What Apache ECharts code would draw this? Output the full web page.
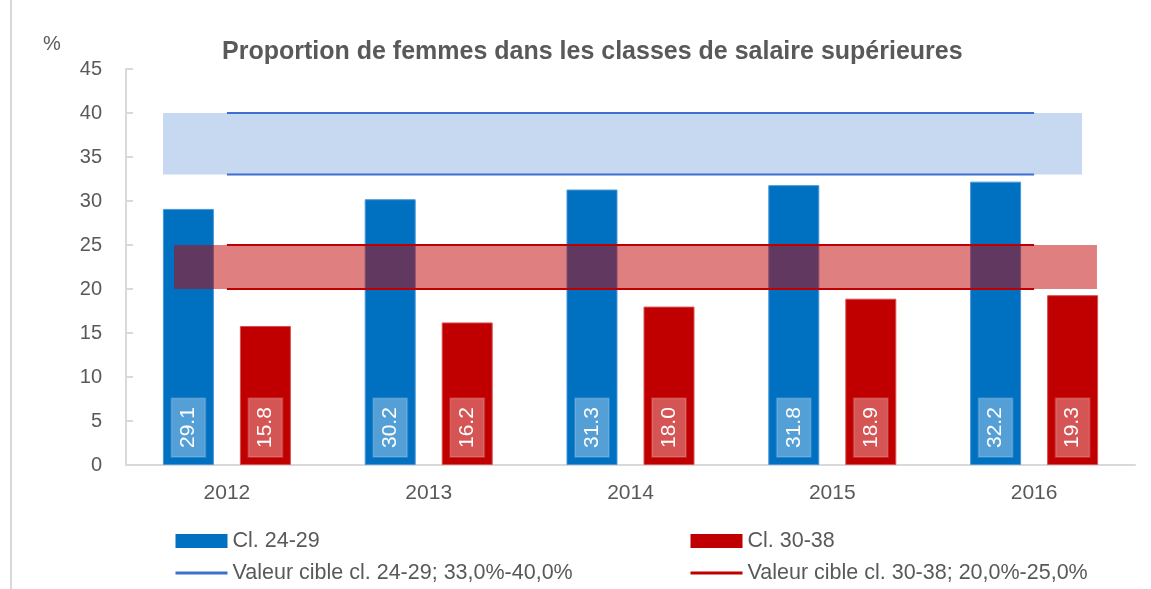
<!DOCTYPE html>
<html lang="fr">
<head>
    <meta charset="utf-8">
    <title>Proportion de femmes</title>
    <script src="https://cdn.jsdelivr.net/npm/echarts@6/dist/echarts.min.js"></script>
    <style>
        html, body { margin: 0; padding: 0; background: #fff; }
        #chart { width: 1151px; height: 589px; }
    </style>
</head>
<body>
<div id="chart"></div>
<script>
    // données
    var years = ['2012', '2013', '2014', '2015', '2016'];
    var cl2429 = [29.1, 30.2, 31.3, 31.8, 32.2];
    var cl3038 = [15.8, 16.2, 18.0, 18.9, 19.3];
    // valeurs cibles (bas / haut)
    var cible2429Bas = [33, 33, 33, 33, 33];
    var cible2429Haut = [40, 40, 40, 40, 40];
    var cible3038Bas = [20, 20, 20, 20, 20];
    var cible3038Haut = [25, 25, 25, 25, 25];
    var bande2429 = [33, 40];
    var bande3038 = [20, 25];
    var yTicks = { min: 0, max: 45, interval: 5 };

    var nomBleu = 'Cl. 24-29';
    var nomRouge = 'Cl. 30-38';
    var nomCibleBleu = 'Valeur cible cl. 24-29; 33,0%-40,0%';
    var nomCibleRouge = 'Valeur cible cl. 30-38; 20,0%-25,0%';

    var font = 'Liberation Sans';
    var grey = '#595959';

    // bande horizontale dessinée via l'axe y
    function band(fromFrac, toFrac, color, opacity) {
        return function (params, api) {
            var cs = params.coordSys;
            var yLow = api.coord([0, api.value(1)])[1];
            var yHigh = api.coord([0, api.value(2)])[1];
            return {
                type: 'rect',
                shape: {
                    x: cs.x + fromFrac * cs.width,
                    y: yHigh,
                    width: (toFrac - fromFrac) * cs.width,
                    height: yLow - yHigh
                },
                style: { fill: color, opacity: opacity }
            };
        };
    }

    var barLabel = {
        show: true,
        position: 'insideBottom',
        distance: 8,
        rotate: 90,
        align: 'left',
        verticalAlign: 'middle',
        color: '#fff',
        fontFamily: font,
        fontSize: 21,
        padding: [7, 9, 6, 9],
        backgroundColor: 'rgba(255,255,255,0.33)',
        borderColor: 'rgba(255,255,255,0.15)',
        borderWidth: 1,
        formatter: function (p) { return p.value.toFixed(1); }
    };

    var legendBase = {
        orient: 'vertical',
        top: 530,
        height: 60,
        padding: 0,
        itemWidth: 52,
        itemHeight: 14,
        itemGap: 10,
        textStyle: { fontFamily: font, fontSize: 21.5, color: grey }
    };

    var myChart = echarts.init(document.getElementById('chart'));
    var option = {
        animation: false,
        title: [{
            text: 'Proportion de femmes dans les classes de salaire supérieures',
            left: 217,
            top: 35,
            textStyle: { fontFamily: font, fontSize: 25, fontWeight: 'bold', color: grey }
        }, {
            text: '%',
            left: 38,
            top: 29,
            textStyle: { fontFamily: font, fontSize: 20, fontWeight: 'normal', color: grey }
        }],
        legend: [
            Object.assign({}, legendBase, {
                left: 174,
                data: [
                    { name: nomBleu, icon: 'rect', itemStyle: { borderWidth: 0 } },
                    { name: nomCibleBleu, itemStyle: { opacity: 0 }, lineStyle: { width: 3 } }
                ]
            }),
            Object.assign({}, legendBase, {
                left: 689,
                data: [
                    { name: nomRouge, icon: 'rect', itemStyle: { borderWidth: 0 } },
                    { name: nomCibleRouge, itemStyle: { opacity: 0 }, lineStyle: { width: 3 } }
                ]
            })
        ],
        graphic: [{
            type: 'line',
            shape: { x1: 11, y1: 0, x2: 11, y2: 589 },
            style: { stroke: '#D9D9D9', lineWidth: 2 }
        }],
        grid: { left: 126, right: 16, top: 69, bottom: 124 },
        xAxis: {
            type: 'category',
            data: years,
            axisLine: { lineStyle: { color: '#D9D9D9', width: 2 } },
            axisTick: { show: false },
            axisLabel: { fontFamily: font, fontSize: 21, color: grey, margin: 18 }
        },
        yAxis: {
            type: 'value',
            min: yTicks.min,
            max: yTicks.max,
            interval: yTicks.interval,
            axisLine: { show: true, lineStyle: { color: '#D9D9D9', width: 2 } },
            axisTick: { show: true, inside: true, length: 7, lineStyle: { color: '#D9D9D9', width: 2 } },
            splitLine: { show: false },
            axisLabel: { fontFamily: font, fontSize: 20, color: grey, margin: 24 }
        },
        series: [{
            name: nomBleu,
            type: 'bar',
            data: cl2429,
            barWidth: 51,
            barGap: '51%',
            z: 2,
            itemStyle: { color: '#0070C0', borderColor: '#4A96D8', borderWidth: 1 },
            label: barLabel
        }, {
            name: nomRouge,
            type: 'bar',
            data: cl3038,
            barWidth: 51,
            barGap: '51%',
            z: 2,
            itemStyle: { color: '#C00000', borderColor: '#D85050', borderWidth: 1 },
            label: barLabel
        }, {
            name: 'bande 24-29',
            type: 'custom',
            renderItem: band(0.0367, 0.9475, '#C6D9F0', 1),
            data: [[0, bande2429[0], bande2429[1]]],
            encode: { x: 0, y: [1, 2] },
            silent: true,
            z: 1
        }, {
            name: 'bande 30-38',
            type: 'custom',
            renderItem: band(0.0476, 0.9623, '#C00000', 0.5),
            data: [[0, bande3038[0], bande3038[1]]],
            encode: { x: 0, y: [1, 2] },
            silent: true,
            z: 3
        }, {
            name: nomCibleBleu,
            type: 'line',
            data: cible2429Bas,
            symbol: 'none',
            z: 4,
            itemStyle: { color: '#3F6FD0' },
            lineStyle: { color: '#3F6FD0', width: 2 }
        }, {
            name: nomCibleBleu,
            type: 'line',
            data: cible2429Haut,
            symbol: 'none',
            z: 4,
            itemStyle: { color: '#3F6FD0' },
            lineStyle: { color: '#3F6FD0', width: 2 }
        }, {
            name: nomCibleRouge,
            type: 'line',
            data: cible3038Bas,
            symbol: 'none',
            z: 4,
            itemStyle: { color: '#C00000' },
            lineStyle: { color: '#C00000', width: 2 }
        }, {
            name: nomCibleRouge,
            type: 'line',
            data: cible3038Haut,
            symbol: 'none',
            z: 4,
            itemStyle: { color: '#C00000' },
            lineStyle: { color: '#C00000', width: 2 }
        }]
    };
    myChart.setOption(option);
</script>
</body>
</html>
